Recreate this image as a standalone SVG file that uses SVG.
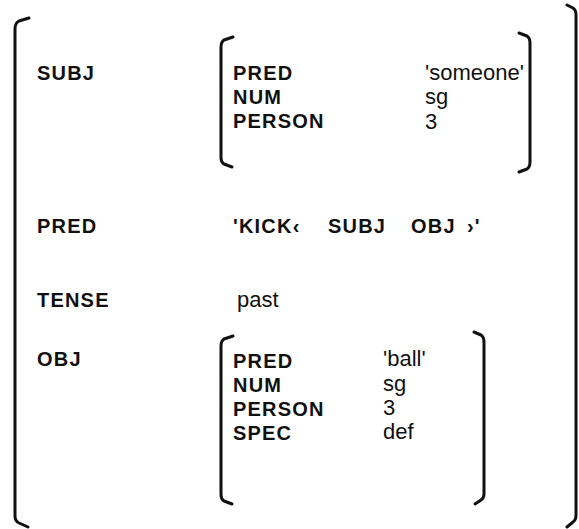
<svg xmlns="http://www.w3.org/2000/svg" width="579" height="529" viewBox="0 0 579 529">
<style>
.br{fill:none;stroke:#111;stroke-width:3;stroke-linecap:round;stroke-linejoin:round}
.k{font-family:"Liberation Sans",Arial,sans-serif;font-weight:bold;font-size:20px;letter-spacing:1.2px;fill:#111}
.v{font-family:"Liberation Sans",Arial,sans-serif;font-size:22px;fill:#111}
</style>
<rect width="579" height="529" fill="#fff"/>
<g id="outer">
<path class="br" d="M29,18 L19,21 Q15,23 15,29 L15,516 Q15,521 19,523 L28,527"/>
<path class="br" d="M567,5 L573,8 Q576,10 576,15 L576,515 Q576,520 573,522 L567,527"/>
</g>
<g id="subj-row">
<text class="k" x="37" y="80">SUBJ</text>
<g id="subj-fs">
<path class="br" d="M233,37 L224,40 Q221,42 221,47 L221,158 Q221,162 224,164 L232,167"/>
<path class="br" d="M519,33 L527,36 Q530,38 530,43 L530,162 Q530,167 527,169 L519,172"/>
<text class="k" x="233" y="80">PRED</text><text class="v" x="425" y="80">'someone'</text>
<text class="k" x="233" y="104">NUM</text><text class="v" x="425" y="104">sg</text>
<text class="k" x="233" y="128">PERSON</text><text class="v" x="425" y="129">3</text>
</g>
</g>
<g id="pred-row">
<text class="k" x="37" y="233">PRED</text>
<text class="k" y="233"><tspan x="233">'KICK‹</tspan><tspan x="328">SUBJ</tspan><tspan x="411">OBJ</tspan><tspan x="467">›'</tspan></text>
</g>
<g id="tense-row">
<text class="k" x="37" y="307">TENSE</text>
<text class="v" x="237" y="307">past</text>
</g>
<g id="obj-row">
<text class="k" x="37" y="366">OBJ</text>
<g id="obj-fs">
<path class="br" d="M233,336 L224,339 Q221,341 221,346 L221,495 Q221,499 224,501 L232,504"/>
<path class="br" d="M474,332 L481,335 Q484,337 484,342 L484,494 Q484,498 481,500 L475,504"/>
<text class="k" x="233" y="368">PRED</text><text class="v" x="383" y="366">'ball'</text>
<text class="k" x="233" y="392">NUM</text><text class="v" x="383" y="391">sg</text>
<text class="k" x="233" y="416">PERSON</text><text class="v" x="383" y="415">3</text>
<text class="k" x="233" y="440">SPEC</text><text class="v" x="383" y="439">def</text>
</g>
</g>
</svg>
